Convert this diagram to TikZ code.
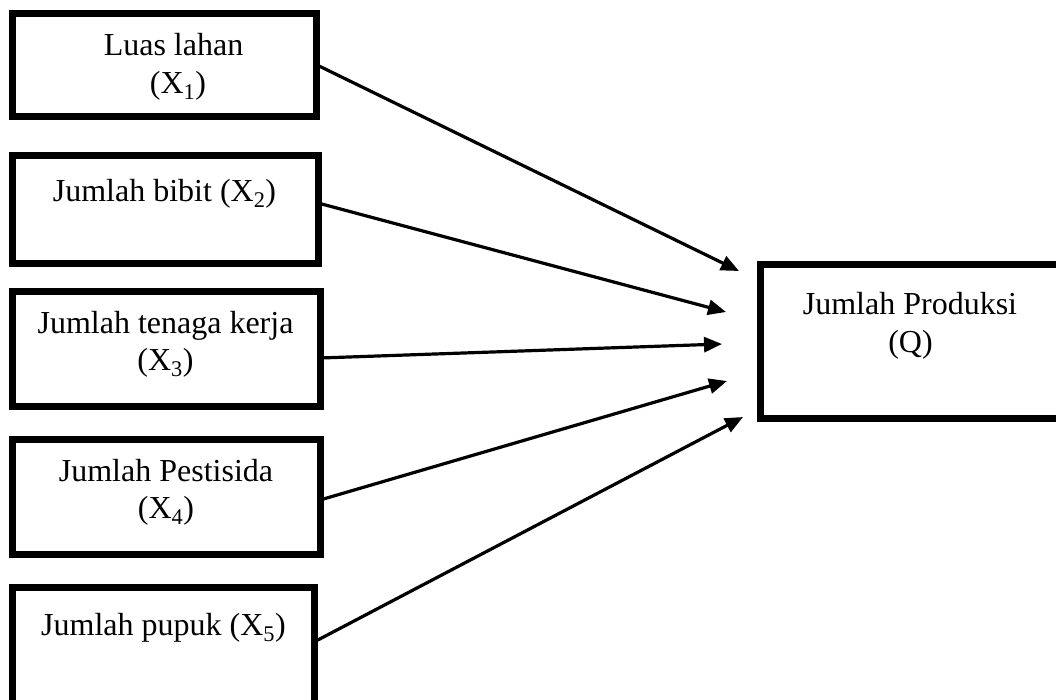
\documentclass[tikz,border=0pt]{standalone}
\usepackage{fontspec}
\setmainfont{Liberation Serif}
\usetikzlibrary{arrows.meta}
\tikzset{
  varbox/.style={draw=black, line width=7pt, rectangle, inner sep=0pt, outer sep=0pt},
  lbl/.style={anchor=base, inner sep=0pt, font=\fontsize{32}{37}\selectfont},
  link/.style={draw=black, line width=3.2pt, -{Triangle[length=18pt,width=15pt]}}
}
\begin{document}
\begin{tikzpicture}[x=1pt, y=-1pt]
\useasboundingbox (0,0) rectangle (1056,699);
\clip (0,0) rectangle (1056,699);
% boxes
\node[varbox, minimum width=304pt, minimum height=103pt] (b1) at (164,64.5) {};
\node[varbox, minimum width=306pt, minimum height=108pt] (b2) at (165,209) {};
\node[varbox, minimum width=308pt, minimum height=115pt] (b3) at (166,348.5) {};
\node[varbox, minimum width=308pt, minimum height=115pt] (b4) at (166,496.5) {};
\node[varbox, minimum width=302pt, minimum height=116pt] (b5) at (163,645) {};
\node[varbox, minimum width=304pt, minimum height=154pt] (q) at (912,341) {};
% texts
\node[lbl] (t1a) at (173.5,55) {Luas lahan};
\node[lbl] (t1b) at (178,93) {(X\textsubscript{1})};
\node[lbl] (t2) at (164.5,201) {Jumlah bibit (X\textsubscript{2})};
\node[lbl] (t3a) at (165.5,333) {Jumlah tenaga kerja};
\node[lbl] (t3b) at (165.5,370) {(X\textsubscript{3})};
\node[lbl] (t4a) at (166,481) {Jumlah Pestisida};
\node[lbl] (t4b) at (166,518) {(X\textsubscript{4})};
\node[lbl] (t5) at (163.5,635) {Jumlah pupuk (X\textsubscript{5})};
\node[lbl] (tqa) at (910,314) {Jumlah Produksi};
\node[lbl] (tqb) at (910.5,352) {(Q)};
% arrow ends
\coordinate (e1) at (739,271);
\coordinate (e2) at (726,312);
\coordinate (e3) at (722,344);
\coordinate (e4) at (727,381);
\coordinate (e5) at (743,417);
% arrows
\draw[link] (b1.east) -- (e1);
\draw[link] ([yshift=6pt]b2.east) -- (e2);
\draw[link] ([yshift=-9.5pt]b3.east) -- (e3);
\draw[link] ([yshift=-3.5pt]b4.east) -- (e4);
\draw[link] ([yshift=3pt]b5.east) -- (e5);
\end{tikzpicture}
\end{document}
